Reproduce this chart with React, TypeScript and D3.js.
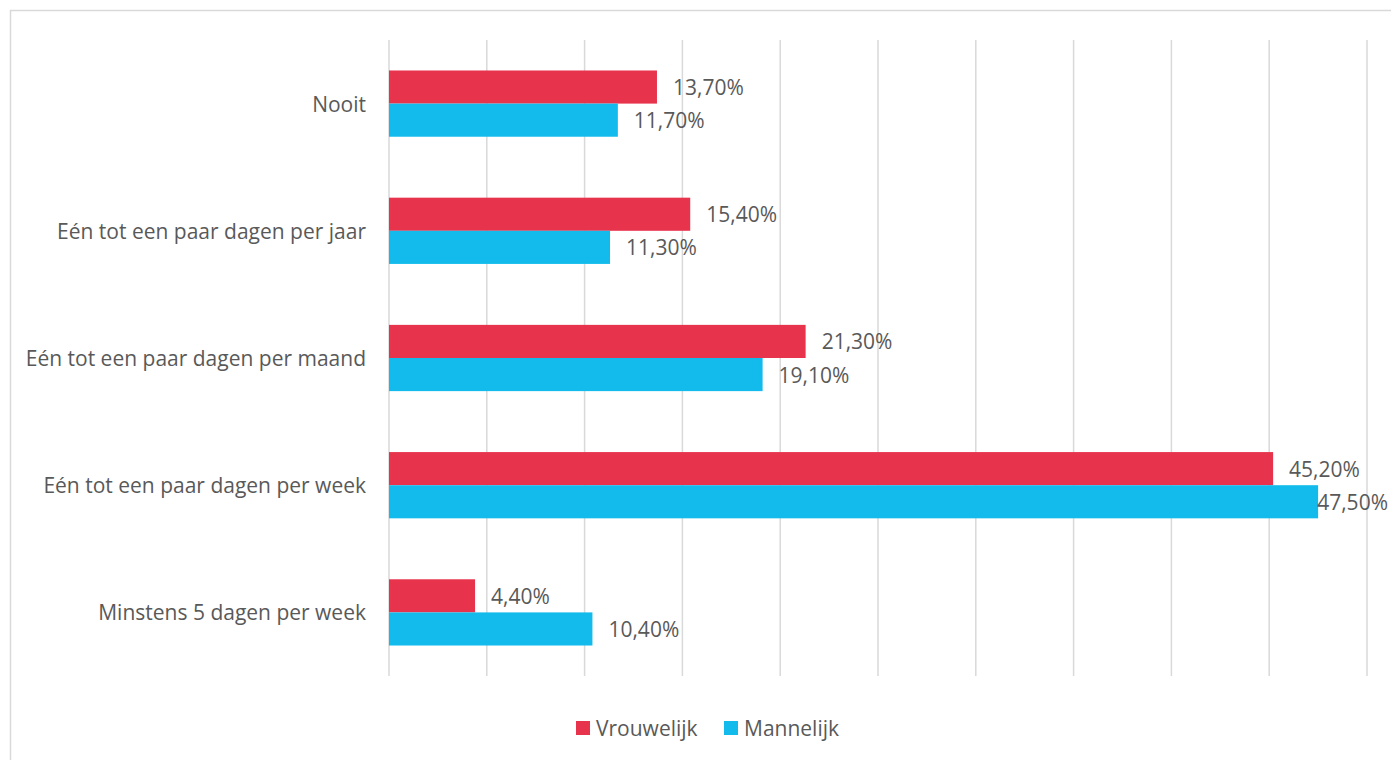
import * as d3 from "d3";

const categories = [
  "Nooit",
  "Eén tot een paar dagen per jaar",
  "Eén tot een paar dagen per maand",
  "Eén tot een paar dagen per week",
  "Minstens 5 dagen per week",
];
const vrouwelijk = [13.7, 15.4, 21.3, 45.2, 4.4];
const mannelijk = [11.7, 11.3, 19.1, 47.5, 10.4];
const seriesNames = ["Vrouwelijk", "Mannelijk"];
const seriesColors = ["#E8334D", "#13BBEC"];
const gridTicks = [0, 5, 10, 15, 20, 25, 30, 35, 40, 45, 50];

const W = 1391;
const H = 760;
const FONT = "'Open Sans', 'Liberation Sans', sans-serif";
const TEXT = "#595959";
const FS = 21;

const fmt = (v: number) => v.toFixed(2).replace(".", ",") + "%";

export default function App() {
  const x = d3.scaleLinear().domain([0, 50]).range([389, 1367]);
  const y = d3.scaleBand<string>().domain(categories).range([40, 676]);
  const inner = d3
    .scaleBand<string>()
    .domain(seriesNames)
    .range([0, y.bandwidth()])
    .paddingOuter(0.92);
  const series = [vrouwelijk, mannelijk];
  const rightLimit = 1388;

  return (
    <svg
      width={W}
      height={H}
      style={{ position: "absolute", left: 0, top: 0, background: "#fff" }}
      fontFamily={FONT}
    >
      <rect x={10.5} y={10.5} width={1400} height={800} fill="#fff" stroke="#d9d9d9" strokeWidth={1.5} />
      {gridTicks.map((t) => (
        <line
          key={t}
          x1={x(t)}
          x2={x(t)}
          y1={40}
          y2={676}
          stroke="#d9d9d9"
          strokeWidth={1.5}
        />
      ))}
      {categories.map((c, i) => (
        <g key={c}>
          <text
            x={366}
            y={(y(c) ?? 0) + y.bandwidth() / 2}
            textAnchor="end"
            dominantBaseline="central"
            fontSize={FS}
            fill={TEXT}
          >
            {c}
          </text>
          {series.map((s, j) => {
            const by = (y(c) ?? 0) + (inner(seriesNames[j]) ?? 0);
            const bh = inner.bandwidth();
            const end = x(s[i]);
            let lx = end + 16;
            let anchor: "start" | "end" = "start";
            if (lx + 71 > rightLimit) {
              lx = rightLimit;
              anchor = "end";
            }
            return (
              <g key={j}>
                <rect x={x(0)} y={by} width={end - x(0)} height={bh} fill={seriesColors[j]} />
                <text
                  x={lx}
                  y={by + bh / 2}
                  textAnchor={anchor}
                  dominantBaseline="central"
                  fontSize={FS}
                  fill={TEXT}
                >
                  {fmt(s[i])}
                </text>
              </g>
            );
          })}
        </g>
      ))}
      {seriesNames.map((n, j) => {
        const lx = j === 0 ? 576 : 724;
        return (
          <g key={n}>
            <rect x={lx} y={721} width={14} height={14} fill={seriesColors[j]} />
            <text x={lx + 20} y={728} dominantBaseline="central" fontSize={FS} fill={TEXT}>
              {n}
            </text>
          </g>
        );
      })}
    </svg>
  );
}
